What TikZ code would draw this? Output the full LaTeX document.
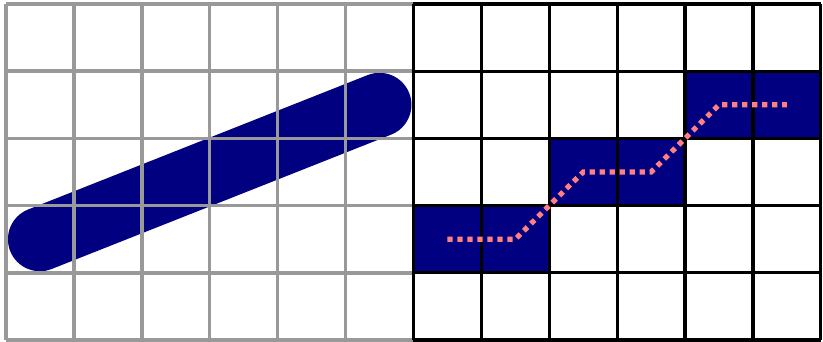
\documentclass[tikz,border=0pt]{standalone}
\usepackage{tikz}
\usetikzlibrary{calc}
\definecolor{cellblue}{RGB}{0,0,128}
\definecolor{dotpink}{RGB}{255,128,128}

\begin{document}
\begin{tikzpicture}[
    x=33.95pt, y=33.6pt,
    softgrid/.style={draw=black!40, line width=1.8pt},
    hardgrid/.style={draw=black, line width=1.6pt},
    stroke/.style={draw=cellblue, line width=32pt, line cap=round},
    pixel/.style={fill=cellblue},
    trace/.style={draw=dotpink, line width=2.6pt, dash pattern=on 2.6pt off 2.4pt}
]
    \useasboundingbox (-0.088,-0.015) rectangle (12.032,5.06);

    % left: ideal line under a grid
    \draw[stroke] (0.5,1.5) -- (5.5,3.5);
    \foreach \i in {0,...,6} \draw[softgrid] (\i,0) -- (\i,5);
    \foreach \j in {0,...,5} \draw[softgrid] (0,\j) -- (6,\j);

    % right: rasterised cells
    \foreach \cx/\cy in {6/1,7/1,8/2,9/2,10/3,11/3}
        \fill[pixel] (\cx,\cy) rectangle ++(1,1);
    \foreach \i in {6,...,12} \draw[hardgrid] (\i,0) -- (\i,5);
    \foreach \j in {0,...,5} \draw[hardgrid] (6,\j) -- (12,\j);

    \draw[trace] (6.5,1.5) -- (7.5,1.5) -- (8.5,2.5) -- (9.5,2.5) -- (10.5,3.5) -- (11.5,3.5);
\end{tikzpicture}
\end{document}
